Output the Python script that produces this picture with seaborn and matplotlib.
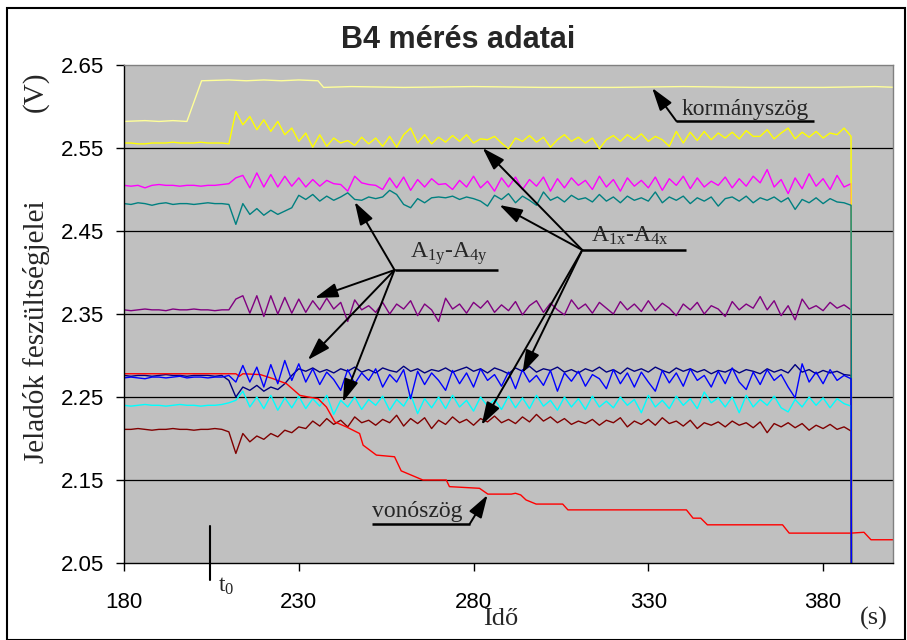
import numpy as np
import pandas as pd
import matplotlib
matplotlib.use("Agg")
import matplotlib.pyplot as plt
import matplotlib.patches as mpatches
import seaborn as sns

# ---------------- data ----------------
t_start, t_step, t_stop = 180, 2, 390      # common time grid of the sensor signals (s)
t_drop, v_drop = 389.0, 0.0                # signals switched off at the end of the test

yellow_pre = [2.556, 2.556, 2.555, 2.555, 2.556, 2.556, 2.556, 2.557, 2.556, 2.556, 2.556, 2.557, 2.556, 2.556, 2.556, 2.555]
yellow_post = [2.594, 2.578, 2.588, 2.572, 2.584, 2.570, 2.582, 2.566, 2.574, 2.558,
               2.568, 2.551, 2.566, 2.552, 2.562, 2.556, 2.559, 2.553, 2.563, 2.555,
               2.562, 2.552, 2.564, 2.551, 2.566, 2.574, 2.556, 2.566, 2.555, 2.563,
               2.557, 2.565, 2.558, 2.566, 2.556, 2.561, 2.560, 2.564, 2.556, 2.549,
               2.562, 2.558, 2.565, 2.557, 2.563, 2.551, 2.560, 2.566, 2.558, 2.563,
               2.556, 2.562, 2.549, 2.560, 2.565, 2.558, 2.566, 2.560, 2.567, 2.558,
               2.564, 2.560, 2.552, 2.570, 2.556, 2.569, 2.559, 2.570, 2.560, 2.568,
               2.562, 2.569, 2.561, 2.571, 2.564, 2.564, 2.572, 2.561, 2.568, 2.574,
               2.561, 2.569, 2.563, 2.570, 2.562, 2.568, 2.566, 2.574, 2.564]

magenta_pre = [2.505, 2.504, 2.505, 2.502, 2.505, 2.506, 2.505, 2.505, 2.504, 2.505, 2.505, 2.504, 2.505, 2.505, 2.506, 2.507]
magenta_post = [2.514, 2.517, 2.502, 2.520, 2.503, 2.518, 2.503, 2.516, 2.504, 2.514,
                2.503, 2.512, 2.504, 2.511, 2.507, 2.506, 2.498, 2.516, 2.508, 2.506,
                2.505, 2.500, 2.514, 2.502, 2.515, 2.499, 2.512, 2.503, 2.513, 2.506,
                2.507, 2.500, 2.511, 2.503, 2.516, 2.502, 2.510, 2.498, 2.514, 2.503,
                2.515, 2.500, 2.512, 2.504, 2.515, 2.498, 2.513, 2.502, 2.514, 2.505,
                2.511, 2.500, 2.516, 2.503, 2.512, 2.498, 2.514, 2.504, 2.511, 2.502,
                2.515, 2.499, 2.513, 2.505, 2.516, 2.501, 2.514, 2.503, 2.510, 2.505,
                2.515, 2.502, 2.513, 2.504, 2.516, 2.508, 2.524, 2.503, 2.512, 2.495,
                2.514, 2.501, 2.519, 2.504, 2.513, 2.500, 2.517, 2.503, 2.507]

teal_pre = [2.483, 2.482, 2.484, 2.483, 2.481, 2.483, 2.484, 2.482, 2.483, 2.483, 2.482, 2.483, 2.484, 2.483, 2.483, 2.482]
teal_post = [2.458, 2.483, 2.470, 2.477, 2.469, 2.475, 2.470, 2.474, 2.478, 2.493,
             2.488, 2.494, 2.486, 2.492, 2.487, 2.491, 2.496, 2.488, 2.487, 2.491,
             2.489, 2.491, 2.499, 2.494, 2.482, 2.478, 2.489, 2.484, 2.490, 2.491,
             2.490, 2.492, 2.488, 2.491, 2.489, 2.486, 2.480, 2.493, 2.488, 2.495,
             2.484, 2.492, 2.487, 2.481, 2.497, 2.487, 2.491, 2.485, 2.493, 2.488,
             2.490, 2.485, 2.494, 2.486, 2.491, 2.484, 2.492, 2.487, 2.490, 2.486,
             2.497, 2.484, 2.491, 2.487, 2.492, 2.483, 2.490, 2.486, 2.491, 2.480,
             2.489, 2.491, 2.486, 2.492, 2.484, 2.490, 2.487, 2.491, 2.485, 2.490,
             2.476, 2.488, 2.484, 2.490, 2.483, 2.489, 2.485, 2.484, 2.481]

purple_pre = [2.355, 2.354, 2.355, 2.356, 2.355, 2.355, 2.354, 2.356, 2.355, 2.355, 2.356, 2.355, 2.355, 2.354, 2.355, 2.355]
purple_post = [2.368, 2.372, 2.351, 2.372, 2.347, 2.372, 2.350, 2.370, 2.351, 2.368,
               2.352, 2.366, 2.355, 2.369, 2.356, 2.364, 2.341, 2.367, 2.355, 2.360,
               2.352, 2.364, 2.350, 2.362, 2.356, 2.366, 2.348, 2.362, 2.355, 2.341,
               2.369, 2.356, 2.362, 2.351, 2.364, 2.357, 2.366, 2.352, 2.361, 2.354,
               2.365, 2.349, 2.360, 2.366, 2.352, 2.363, 2.355, 2.349, 2.367, 2.356,
               2.362, 2.351, 2.364, 2.357, 2.350, 2.365, 2.355, 2.362, 2.353, 2.366,
               2.354, 2.363, 2.357, 2.348, 2.362, 2.355, 2.364, 2.350, 2.360, 2.356,
               2.347, 2.365, 2.355, 2.362, 2.357, 2.371, 2.355, 2.366, 2.348, 2.360,
               2.343, 2.368, 2.356, 2.360, 2.354, 2.364, 2.357, 2.361, 2.355]

navy_pre = [2.276, 2.275, 2.276, 2.276, 2.275, 2.276, 2.277, 2.276, 2.276, 2.275, 2.276, 2.276, 2.276, 2.275, 2.276, 2.270]
navy_post = [2.250, 2.262, 2.258, 2.264, 2.257, 2.262, 2.259, 2.266, 2.276, 2.284,
             2.281, 2.285, 2.280, 2.283, 2.279, 2.284, 2.281, 2.286, 2.280, 2.283,
             2.279, 2.285, 2.282, 2.280, 2.287, 2.281, 2.284, 2.279, 2.283, 2.281,
             2.285, 2.280, 2.283, 2.286, 2.281, 2.284, 2.279, 2.285, 2.282, 2.278,
             2.285, 2.281, 2.287, 2.280, 2.284, 2.282, 2.286, 2.280, 2.283, 2.279,
             2.284, 2.281, 2.286, 2.280, 2.283, 2.278, 2.285, 2.281, 2.284, 2.280,
             2.286, 2.282, 2.279, 2.285, 2.281, 2.284, 2.280, 2.283, 2.278, 2.282,
             2.280, 2.284, 2.279, 2.283, 2.281, 2.278, 2.284, 2.280, 2.283, 2.279,
             2.289, 2.280, 2.283, 2.278, 2.282, 2.279, 2.281, 2.277, 2.276]

blue_pre = [2.273, 2.274, 2.273, 2.272, 2.274, 2.274, 2.273, 2.274, 2.275, 2.273, 2.274, 2.274, 2.273, 2.274, 2.274, 2.276]
blue_post = [2.268, 2.288, 2.268, 2.286, 2.262, 2.289, 2.266, 2.294, 2.270, 2.290,
             2.268, 2.284, 2.265, 2.280, 2.271, 2.258, 2.283, 2.266, 2.279, 2.270,
             2.284, 2.262, 2.277, 2.268, 2.283, 2.248, 2.281, 2.265, 2.279, 2.270,
             2.258, 2.282, 2.266, 2.279, 2.262, 2.284, 2.270, 2.277, 2.263, 2.280,
             2.260, 2.283, 2.268, 2.276, 2.264, 2.282, 2.257, 2.279, 2.269, 2.281,
             2.263, 2.277, 2.272, 2.260, 2.283, 2.266, 2.279, 2.262, 2.280, 2.268,
             2.257, 2.282, 2.267, 2.279, 2.263, 2.284, 2.270, 2.276, 2.262, 2.281,
             2.266, 2.285, 2.268, 2.259, 2.280, 2.265, 2.283, 2.270, 2.277, 2.262,
             2.249, 2.290, 2.268, 2.280, 2.266, 2.283, 2.270, 2.276, 2.272]

cyan_pre = [2.240, 2.239, 2.240, 2.241, 2.240, 2.240, 2.239, 2.240, 2.241, 2.240, 2.240, 2.239, 2.240, 2.240, 2.241, 2.243]
cyan_post = [2.246, 2.257, 2.238, 2.250, 2.236, 2.252, 2.234, 2.249, 2.237, 2.251,
             2.236, 2.248, 2.239, 2.252, 2.229, 2.246, 2.238, 2.250, 2.235, 2.247,
             2.240, 2.251, 2.234, 2.247, 2.239, 2.253, 2.230, 2.248, 2.237, 2.250,
             2.236, 2.252, 2.238, 2.246, 2.233, 2.250, 2.239, 2.247, 2.235, 2.251,
             2.237, 2.249, 2.236, 2.252, 2.239, 2.246, 2.234, 2.250, 2.238, 2.248,
             2.235, 2.251, 2.238, 2.245, 2.237, 2.250, 2.240, 2.247, 2.231, 2.252,
             2.238, 2.246, 2.236, 2.251, 2.240, 2.248, 2.236, 2.256, 2.243, 2.249,
             2.238, 2.250, 2.231, 2.252, 2.238, 2.247, 2.240, 2.251, 2.237, 2.232,
             2.247, 2.238, 2.250, 2.240, 2.249, 2.237, 2.248, 2.242, 2.239]

darkred_pre = [2.211, 2.211, 2.212, 2.211, 2.210, 2.211, 2.211, 2.212, 2.211, 2.211, 2.210, 2.211, 2.211, 2.212, 2.211, 2.208]
darkred_post = [2.182, 2.206, 2.196, 2.203, 2.199, 2.206, 2.202, 2.210, 2.207, 2.214,
                2.212, 2.221, 2.215, 2.224, 2.217, 2.222, 2.214, 2.226, 2.219, 2.222,
                2.216, 2.223, 2.219, 2.228, 2.215, 2.224, 2.218, 2.225, 2.212, 2.222,
                2.217, 2.226, 2.219, 2.223, 2.216, 2.224, 2.220, 2.227, 2.219, 2.223,
                2.218, 2.226, 2.220, 2.229, 2.221, 2.226, 2.219, 2.224, 2.217, 2.221,
                2.218, 2.223, 2.216, 2.222, 2.219, 2.225, 2.214, 2.221, 2.217, 2.223,
                2.216, 2.225, 2.218, 2.221, 2.215, 2.222, 2.212, 2.219, 2.216, 2.220,
                2.214, 2.221, 2.216, 2.219, 2.213, 2.220, 2.207, 2.218, 2.214, 2.219,
                2.213, 2.218, 2.210, 2.216, 2.212, 2.217, 2.211, 2.214, 2.209]

# kormányszög (steering angle)
korm_t = [180, 186, 190, 194, 198, 202.2, 210, 215, 220, 225, 230, 235.5, 237.1, 245, 260, 280, 300, 320, 340, 360, 380, 395, 401.2]
korm_v = [2.582, 2.583, 2.582, 2.583, 2.582, 2.631, 2.632, 2.631, 2.632, 2.631, 2.632, 2.631, 2.623, 2.624, 2.623, 2.624,
          2.623, 2.623, 2.624, 2.623, 2.623, 2.624, 2.623]

# vonószög (drawbar angle)
von_t = [180, 212, 213, 214, 219, 222.7, 226.5, 230.3, 232.7, 235.5, 237.9, 240.3, 243.6, 247.4, 248.4, 252.2, 257.4,
         259.3, 265.5, 272.2, 273.1, 281.7, 284.1, 290.8, 292, 293.5, 295, 297.9, 305.5, 307, 340.9, 342.8, 345,
         346.9, 368.4, 370.3, 388, 391.7, 393.7, 401]
von_v = [2.278, 2.278, 2.275, 2.278, 2.277, 2.272, 2.266, 2.252, 2.250, 2.248, 2.238, 2.220, 2.214, 2.206, 2.192, 2.180,
         2.178, 2.161, 2.150, 2.150, 2.142, 2.140, 2.133, 2.133, 2.134, 2.132, 2.126, 2.121, 2.121, 2.114, 2.114, 2.104,
         2.104, 2.096, 2.096, 2.086, 2.086, 2.087, 2.078, 2.078]

x_ticks = [180, 230, 280, 330, 380]
y_ticks = [2.05, 2.15, 2.25, 2.35, 2.45, 2.55, 2.65]

# ---------------- style ----------------
sns.set_style("white")
plt.rcParams['font.family'] = ['Liberation Sans', 'DejaVu Sans']
plt.rcParams['mathtext.fontset'] = 'custom'
plt.rcParams['mathtext.rm'] = 'Liberation Serif'
plt.rcParams['mathtext.it'] = 'Liberation Serif:italic'

W, H = 907, 640
fig = plt.figure(figsize=(W / 100, H / 100), dpi=100)
ax = fig.add_axes([124 / W, 1 - 563 / H, (893 - 124) / W, (563 - 65) / H])
ax.set_facecolor('#C0C0C0')

t_sig = np.arange(t_start, t_stop, t_step)


def sig(pre, post):
    vals = list(pre) + list(post)
    assert len(vals) == len(t_sig), (len(pre), len(post))
    return pd.DataFrame({'t': np.append(t_sig, t_drop), 'v': np.append(vals, v_drop)})


series = [
    (pd.DataFrame({'t': korm_t, 'v': korm_v}), '#FFFF99'),
    (sig(magenta_pre, magenta_post), '#FF00FF'),
    (sig(purple_pre, purple_post), '#800080'),
    (sig(navy_pre, navy_post), '#000080'),
    (sig(cyan_pre, cyan_post), '#00FFFF'),
    (sig(darkred_pre, darkred_post), '#800000'),
    (sig(yellow_pre, yellow_post), '#FFFF00'),
    (sig(teal_pre, teal_post), '#008080'),
    (pd.DataFrame({'t': von_t, 'v': von_v}), '#FF0000'),
    (sig(blue_pre, blue_post), '#0000FF'),
]

# horizontal gridlines (interior ticks)
for yv in y_ticks[1:-1]:
    ax.axhline(yv, color='black', lw=0.9, zorder=1)

for df, col in series:
    sns.lineplot(data=df, x='t', y='v', color=col, lw=1.0, estimator=None, sort=False, ax=ax, zorder=2)

ax.set_xlim(180, 400)
ax.set_ylim(2.05, 2.65)
ax.set_xticks(x_ticks)
ax.set_yticks(y_ticks)
ax.set_xticklabels([str(v) for v in x_ticks])
ax.set_yticklabels([f"{v:.2f}" for v in y_ticks])
ax.set_xlabel('')
ax.set_ylabel('')
ax.tick_params(axis='both', direction='out', length=6, width=1, colors='black', labelsize=16)
ax.tick_params(axis='x', pad=15)
ax.tick_params(axis='y', pad=8)
ax.tick_params(left=True, bottom=True)
for s in ['left', 'bottom']:
    ax.spines[s].set_color('black')
    ax.spines[s].set_linewidth(1.0)
for s in ['top', 'right']:
    ax.spines[s].set_color('#808080')
    ax.spines[s].set_linewidth(1.0)
    ax.spines[s].set_visible(True)

serif = ['Liberation Serif', 'DejaVu Serif']


def fx(px):
    return px / W


def fy(py):
    return 1 - py / H


# title and axis texts
fig.text(fx(458.5), fy(48.3), 'B4 mérés adatai', ha='center', va='baseline', fontsize=22,
         fontweight='bold', family=['Liberation Sans', 'DejaVu Sans'])
fig.text(fx(37), fy(332), 'Jeladók feszültségjelei', rotation=90, ha='center', va='center',
         fontsize=21, family=serif)
fig.text(fx(35), fy(92), '(V)', rotation=90, ha='center', va='center', fontsize=21, family=serif)
fig.text(fx(483), fy(625), 'Idő', ha='left', va='baseline', fontsize=19, family=serif)
fig.text(fx(874), fy(625), '(s)', ha='center', va='baseline', fontsize=19, family=serif)

# figure frame
fig.patches.append(mpatches.Rectangle((fx(7), 0), fx(905) - fx(7), fy(8), transform=fig.transFigure,
                                      fill=False, edgecolor='black', lw=1.5))

arrow = dict(arrowstyle='-|>,head_length=0.7,head_width=0.22', color='black', lw=1.4,
             mutation_scale=20, shrinkA=0, shrinkB=0)


def underline(t0, t1, v):
    ax.plot([t0, t1], [v, v], color='black', lw=1.8, clip_on=False, zorder=5, solid_capstyle='butt')


# kormányszög
ax.text(339.4, 2.5898, 'kormányszög', fontsize=17, family=serif, ha='left', va='baseline', zorder=6)
underline(338.0, 377.4, 2.5825)
ax.annotate('', xy=(331.1, 2.6223), xytext=(338.0, 2.5825), arrowprops=arrow, zorder=6)

# A1x-A4x
ax.text(313.7, 2.4371, r'A$_{\mathrm{1x}}$-A$_{\mathrm{4x}}$', fontsize=17, family=serif,
        ha='left', va='baseline', zorder=6)
underline(311.1, 340.9, 2.4271)
for tip in [(282.6, 2.5500), (287.4, 2.4813), (294.0, 2.2789), (282.3, 2.2163)]:
    ax.annotate('', xy=tip, xytext=(311.1, 2.4271), arrowprops=arrow, zorder=6)

# A1y-A4y
ax.text(261.7, 2.4175, r'A$_{\mathrm{1y}}$-A$_{\mathrm{4y}}$', fontsize=17, family=serif,
        ha='left', va='baseline', zorder=6)
underline(257.4, 286.9, 2.403)
for tip in [(246.0, 2.485), (234.6, 2.3693), (232.6, 2.2946), (242.6, 2.244)]:
    ax.annotate('', xy=tip, xytext=(257.4, 2.403), arrowprops=arrow, zorder=6)

# vonószög
ax.text(250.9, 2.1058, 'vonószög', fontsize=17, family=serif, ha='left', va='baseline', zorder=6)
underline(250.9, 278.9, 2.097)
ax.annotate('', xy=(284.0, 2.1319), xytext=(278.9, 2.097), arrowprops=arrow, zorder=6)

# t0 marker
ax.plot([204.57, 204.57], [2.0946, 2.0295], color='black', lw=1.5, clip_on=False, zorder=6)
ax.text(206.9, 2.0154, r't$_{\mathrm{0}}$', fontsize=17, family=serif, ha='left', va='baseline',
        clip_on=False, zorder=6)

fig.savefig('out.png', dpi=100, facecolor='white')
